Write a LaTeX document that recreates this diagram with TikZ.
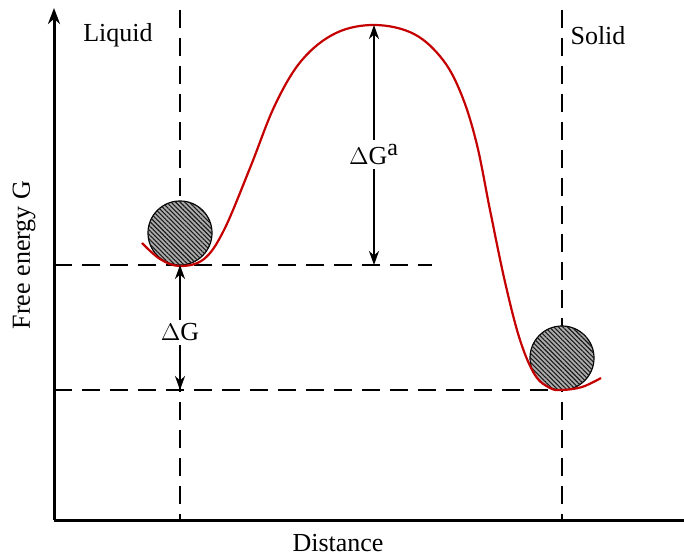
\documentclass[tikz,border=0pt]{standalone}
\usepackage{fontspec}
\setmainfont{Liberation Serif}
\usetikzlibrary{arrows.meta,patterns.meta}
\definecolor{curvered}{HTML}{C40000}
\tikzset{
  axis/.style={black, line width=1.5pt},
  guide/.style={black, line width=1.1pt, dash pattern=on 9pt off 5pt},
  energy/.style={curvered, line width=1.1pt},
  gap/.style={{Stealth[length=7pt,width=5pt]}-{Stealth[length=7pt,width=5pt]}, black, line width=1.3pt},
  ball/.style={draw=black, line width=0.6pt, fill=gray!65,
    postaction={pattern={Lines[angle=-45, distance=1.6pt, line width=0.55pt]}, pattern color=black!90}},
  lab/.style={text=black, font=\fontsize{13}{15}\selectfont},
  gaplab/.style={lab, fill=white, inner sep=2pt},
}

\begin{document}
\begin{tikzpicture}[x=0.5pt, y=-0.5pt]
  \useasboundingbox (0,0) rectangle (684,556);

  % axes
  \coordinate (o) at (54,520);
  \coordinate (ytop) at (54,8);
  \coordinate (xend) at (684,520);
  \draw[axis, -{Stealth[length=8pt,width=6pt]}] (o) -- (ytop);
  \draw[axis] (o) -- (xend);
  \node[lab, rotate=90] (ylab) at (24,255) {Free energy G};
  \node[lab] (xlab) at (338,543) {Distance};

  % guide lines
  \coordinate (liq) at (180,265);
  \coordinate (sol) at (180,390);
  \draw[guide] (180,10) -- (180,520);
  \draw[guide] (562,10) -- (562,520);
  \draw[guide] (54,265) -- (432,265);
  \draw[guide] (54,390) -- (562,390);
  \node[lab] (liqlab) at (118,35) {Liquid};
  \node[lab] (sollab) at (598,36) {Solid};

  % balls
  \path[ball] (180,233) circle (32);
  \path[ball] (562,358) circle (32);

  % free energy curve
  \draw[energy] plot[smooth, tension=0.6] coordinates {
    (142,243) (160,259) (180,266) (204,259) (224,230) (250,168) (275,105) (302,60)
    (336,33) (375,25) (414,34) (443,60) (462,96) (477,145) (490,210) (505,282)
    (520,340) (535,375) (550,388) (562,390) (582,387) (601,378)};
  \coordinate (peak) at (374,25);
  \coordinate (base) at (374,265);

  % energy differences
  \draw[gap] (peak) -- (base) node[gaplab, pos=0.54] (dga) {$\Delta$G\textsuperscript{\fontsize{12}{14}\selectfont a}};
  \draw[gap] (liq) -- (sol) node[gaplab, pos=0.54] (dg) {$\Delta$G};
\end{tikzpicture}
\end{document}
